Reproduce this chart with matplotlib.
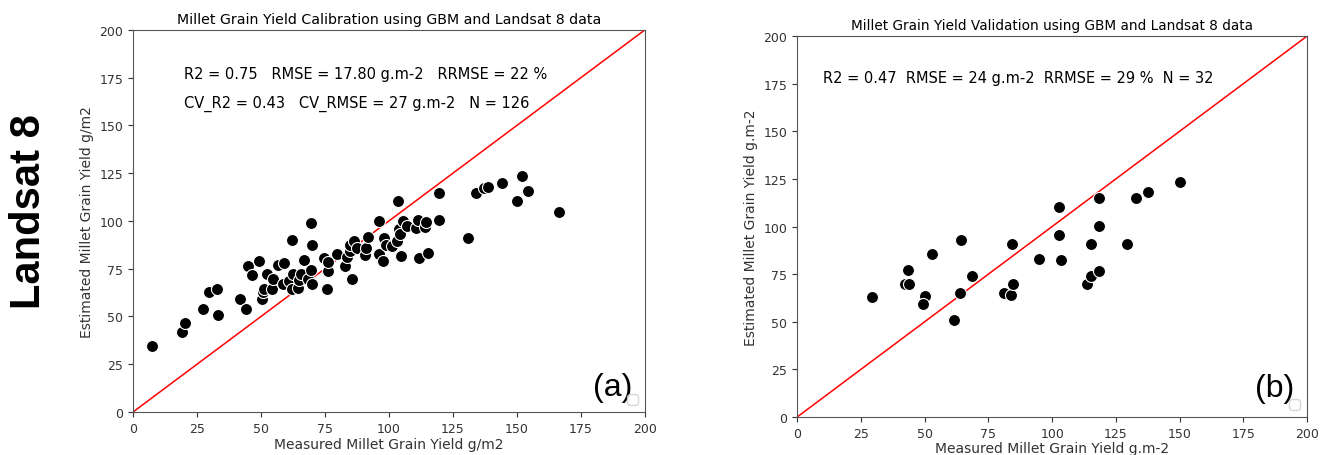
import matplotlib
matplotlib.use("Agg")
import matplotlib.pyplot as plt

# calibration (a)
cal_measured = [7.4, 19.0, 20.2, 27.5, 29.6, 32.7, 33.3, 41.8, 44.0, 44.9, 46.6, 49.2, 50.3, 50.9,
                51.3, 52.5, 54.2, 54.6, 56.8, 59.0, 58.5, 61.1, 62.1, 62.2, 62.6, 64.6, 64.8, 65.6,
                66.8, 68.2, 69.5, 69.7, 69.8, 70.0, 74.7, 75.9, 76.2, 76.3, 79.8, 82.7, 83.5, 84.8,
                85.5, 84.9, 86.3, 87.4, 90.6, 91.0, 91.8, 96.0, 96.2,
                97.5, 98.0, 98.7, 101.2, 103.3, 103.6, 103.9, 104.6, 104.3, 105.3, 106.9, 110.5,
                111.4, 111.8, 114.1, 114.3, 115.4, 119.4, 119.4, 130.7, 134.2, 137.2, 138.8,
                144.0, 150.0, 152.0, 154.3, 166.5]
cal_estimated = [34.7, 42.0, 46.6, 54.1, 62.8, 64.2, 50.8, 59.0, 54.1, 76.4, 71.7, 79.1, 59.0, 63.0,
                 64.4, 72.1, 64.4, 69.6, 77.0, 78.0, 66.9, 68.6, 89.9, 64.4, 72.3, 65.1, 69.1, 72.4,
                 79.6, 69.6, 99.0, 74.2, 66.9, 87.4, 80.8, 64.4, 74.0, 78.7, 82.7, 76.6, 81.0, 84.5,
                 69.6, 87.4, 89.7, 85.7, 82.4, 85.7, 91.4, 100.2, 82.7,
                 79.1, 91.1, 87.4, 86.7, 89.7, 110.3, 95.8, 81.8, 93.2, 99.8, 97.5, 96.3,
                 100.7, 80.8, 97.0, 99.6, 83.2, 114.7, 100.4, 90.9, 114.7, 117.1, 118.0,
                 119.9, 110.3, 123.4, 115.9, 104.7]

# validation (b)
val_measured = [29.5, 42.2, 43.7, 43.5, 52.8, 50.2, 49.5, 61.6, 63.7, 64.3, 68.6, 81.3, 83.8, 84.7,
                84.3, 95.0, 102.5, 102.5, 103.5, 113.6, 115.3, 115.3, 118.2, 118.2, 118.2, 129.3,
                132.8, 137.4, 150.3]
val_estimated = [63.1, 70.0, 70.0, 77.0, 85.7, 63.5, 59.1, 50.9, 65.3, 93.1, 73.8, 65.3, 64.2, 69.6,
                 91.0, 82.9, 110.4, 95.5, 82.3, 69.6, 73.8, 90.8, 76.8, 100.3, 114.8, 90.8,
                 114.8, 118.3, 123.5]

ticks = [0, 25, 50, 75, 100, 125, 150, 175, 200]

fig = plt.figure(figsize=(13.33, 4.56), dpi=100)
ax1 = fig.add_axes([0.0998, 0.0943, 0.384, 0.838])
ax2 = fig.add_axes([0.598, 0.0833, 0.3826, 0.8355])

fig.text(0.022, 0.535, "Landsat 8", rotation=90, fontsize=30, fontweight="bold",
         family="Liberation Sans", ha="center", va="center")

for ax in (ax1, ax2):
    ax.plot([0, 200], [0, 200], color="red", lw=1.1, zorder=1)
    ax.set_xlim(0, 200)
    ax.set_ylim(0, 200)
    ax.set_xticks(ticks)
    ax.set_yticks(ticks)
    ax.tick_params(labelsize=9, colors="#333333")
    for s in ax.spines.values():
        s.set_color("#555555")
    ax.legend(handles=[], loc="lower right", frameon=True)

ax1.scatter(cal_measured, cal_estimated, s=75, c="black", edgecolors="white", linewidths=0.8, zorder=2)
ax1.set_title("Millet Grain Yield Calibration using GBM and Landsat 8 data", fontsize=10.2, pad=5)
ax1.set_xlabel("Measured Millet Grain Yield g/m2", fontsize=10, color="#333333", labelpad=2)
ax1.set_ylabel("Estimated Millet Grain Yield g/m2", fontsize=10, color="#333333")
ax1.text(20, 177, "R2 = 0.75   RMSE = 17.80 g.m-2   RRMSE = 22 %", fontsize=10.5, va="center")
ax1.text(20, 162, "CV_R2 = 0.43   CV_RMSE = 27 g.m-2   N = 126", fontsize=10.5, va="center")
ax1.text(195, 13, "(a)", fontsize=23, family="Liberation Sans", ha="right", va="center")

ax2.scatter(val_measured, val_estimated, s=75, c="black", edgecolors="white", linewidths=0.8, zorder=2)
ax2.set_title("Millet Grain Yield Validation using GBM and Landsat 8 data", fontsize=9.8, pad=5)
ax2.set_xlabel("Measured Millet Grain Yield g.m-2", fontsize=10, color="#333333", labelpad=1)
ax2.set_ylabel("Estimated Millet Grain Yield g.m-2", fontsize=10, color="#333333")
ax2.text(10, 178, "R2 = 0.47  RMSE = 24 g.m-2  RRMSE = 29 %  N = 32", fontsize=10.5, va="center")
ax2.text(195, 15, "(b)", fontsize=23, family="Liberation Sans", ha="right", va="center")

fig.savefig("out.png", dpi=100)
